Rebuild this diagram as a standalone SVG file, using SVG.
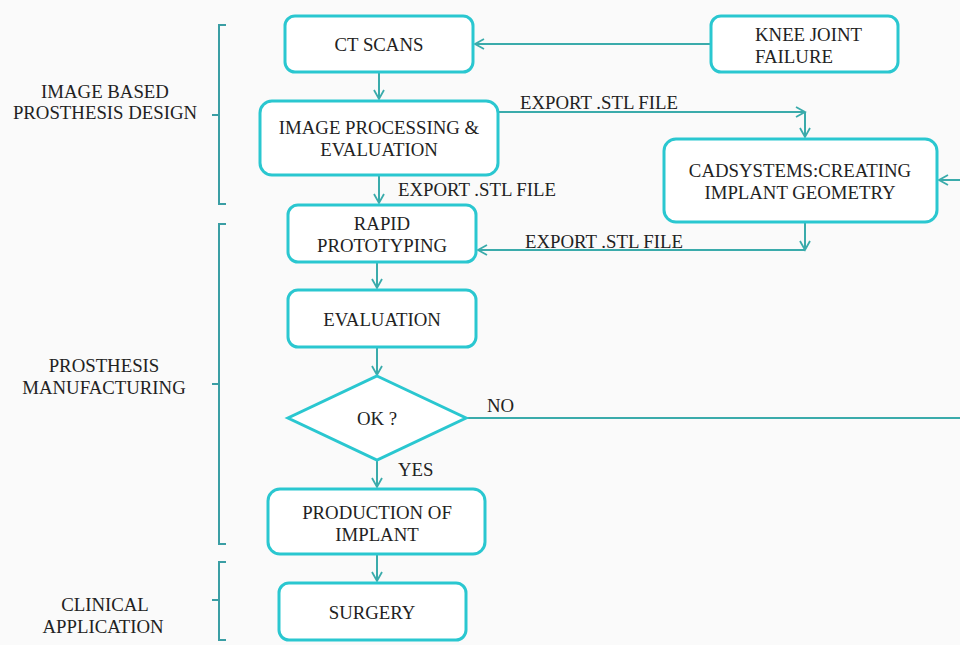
<svg xmlns="http://www.w3.org/2000/svg" width="960" height="645" viewBox="0 0 960 645">
<style>
.box{fill:#fff;stroke:#2ac7d0;stroke-width:3}
.t{font-family:"Liberation Serif","Times New Roman",serif;font-size:18.8px;fill:#222;text-anchor:middle}
.l{font-family:"Liberation Serif","Times New Roman",serif;font-size:18.8px;fill:#222}
.c{fill:none;stroke:#3aabab;stroke-width:2}
.br{fill:none;stroke:#3a9ea4;stroke-width:2}
</style>
<defs>
<marker id="ah" markerWidth="12" markerHeight="12" refX="10" refY="6" orient="auto" markerUnits="userSpaceOnUse">
<path d="M1,1 L10,6 L1,11" fill="none" stroke="#3aabab" stroke-width="1.8"/>
</marker>
</defs>
<rect width="960" height="645" fill="#fafafa"/>
<g id="brackets">
<path class="br" d="M226,25 H219 V204 H226 M219,115 H212"/>
<path class="br" d="M226,224 H219 V544 H226 M219,384 H212"/>
<path class="br" d="M226,562 H219 V640 H226 M219,600 H212"/>
<text class="t" x="105" y="98">IMAGE BASED</text>
<text class="t" x="105" y="119">PROSTHESIS DESIGN</text>
<text class="t" x="104" y="372">PROSTHESIS</text>
<text class="t" x="104" y="394">MANUFACTURING</text>
<text class="t" x="105" y="611">CLINICAL</text>
<text class="t" x="103" y="633">APPLICATION</text>
</g>
<g id="connectors">
<path class="c" d="M711,44 H475" marker-end="url(#ah)"/>
<path class="c" d="M379,72 V99" marker-end="url(#ah)"/>
<path class="c" d="M498,112 H805" marker-end="url(#ah)"/>
<path class="c" d="M805,112 V137" marker-end="url(#ah)"/>
<path class="c" d="M379,175 V203" marker-end="url(#ah)"/>
<path class="c" d="M805,222 V250" marker-end="url(#ah)"/>
<path class="c" d="M805,250 H478" marker-end="url(#ah)"/>
<path class="c" d="M377,262 V288" marker-end="url(#ah)"/>
<path class="c" d="M377,347 V375" marker-end="url(#ah)"/>
<path class="c" d="M466,418 H960"/>
<path class="c" d="M960,180 H939" marker-end="url(#ah)"/>
<path class="c" d="M377,460 V487" marker-end="url(#ah)"/>
<path class="c" d="M377,554 V581" marker-end="url(#ah)"/>
<text class="l" x="520" y="109">EXPORT .STL FILE</text>
<text class="l" x="398" y="196">EXPORT .STL FILE</text>
<text class="l" x="525" y="248">EXPORT .STL FILE</text>
<text class="l" x="487" y="412">NO</text>
<text class="l" x="398" y="476">YES</text>
</g>
<g id="ct">
<rect class="box" x="285" y="16" width="188" height="56" rx="10"/>
<text class="t" x="379" y="51">CT SCANS</text>
</g>
<g id="knee">
<rect class="box" x="711" y="16" width="187" height="56" rx="10"/>
<text class="l" x="755" y="41">KNEE JOINT</text>
<text class="l" x="755" y="63">FAILURE</text>
</g>
<g id="imgproc">
<rect class="box" x="260" y="101" width="238" height="74" rx="12"/>
<text class="t" x="379" y="134">IMAGE PROCESSING &amp;</text>
<text class="t" x="379" y="156">EVALUATION</text>
</g>
<g id="cad">
<rect class="box" x="664" y="139" width="273" height="83" rx="12"/>
<text class="t" x="800" y="177">CADSYSTEMS:CREATING</text>
<text class="t" x="800" y="199">IMPLANT GEOMETRY</text>
</g>
<g id="rapid">
<rect class="box" x="288" y="205" width="188" height="57" rx="10"/>
<text class="t" x="382" y="230">RAPID</text>
<text class="t" x="382" y="252">PROTOTYPING</text>
</g>
<g id="evaluation">
<rect class="box" x="288" y="290" width="188" height="57" rx="10"/>
<text class="t" x="382" y="326">EVALUATION</text>
</g>
<g id="ok">
<polygon class="box" points="377,376 466,418 377,460 288,418"/>
<text class="t" x="377" y="425">OK ?</text>
</g>
<g id="production">
<rect class="box" x="268" y="489" width="217" height="65" rx="12"/>
<text class="t" x="377" y="519">PRODUCTION OF</text>
<text class="t" x="377" y="541">IMPLANT</text>
</g>
<g id="surgery">
<rect class="box" x="279" y="583" width="187" height="57" rx="10"/>
<text class="t" x="372" y="619">SURGERY</text>
</g>
</svg>
